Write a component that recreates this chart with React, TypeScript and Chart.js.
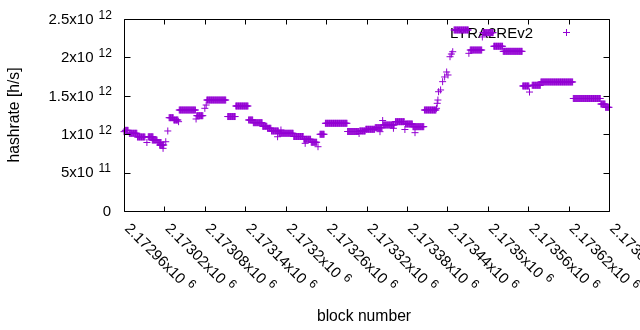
import React, { useEffect, useRef } from "react";
import { Chart, registerables } from "chart.js";

Chart.register(...registerables);

// ---- data (runs of consecutive blocks with the same hashrate, in 10^12 h/s) ----
const runStart = [
  2172960, 2172962, 2172968, 2172980, 2172994, 2172996, 2173002, 2173010, 2173013, 2173018,
  2173022, 2173025, 2173027, 2173034, 2173041, 2173042, 2173067, 2173068, 2173080, 2173082,
  2173083, 2173114, 2173126, 2173145, 2173152, 2173166, 2173173, 2173179, 2173188, 2173193,
  2173190, 2173212, 2173227, 2173229, 2173238, 2173248, 2173251, 2173259, 2173292, 2173309,
  2173310, 2173319, 2173333, 2173340, 2173344, 2173345, 2173360, 2173363, 2173377, 2173378,
  2173392, 2173389, 2173406, 2173424, 2173425, 2173426, 2173427, 2173430, 2173433, 2173436,
  2173439, 2173441, 2173444, 2173446, 2173448, 2173450, 2173472, 2173474, 2173492, 2173493,
  2173509, 2173523, 2173552, 2173562, 2173566, 2173579, 2173627, 2173668, 2173675,
];
const runEnd = [
  2172960, 2172966, 2172979, 2172991, 2172994, 2173003, 2173009, 2173015, 2173019, 2173018,
  2173022, 2173025, 2173033, 2173040, 2173041, 2173066, 2173067, 2173077, 2173080, 2173082,
  2173111, 2173125, 2173144, 2173151, 2173165, 2173172, 2173178, 2173189, 2173188, 2173193,
  2173211, 2173226, 2173237, 2173229, 2173246, 2173248, 2173257, 2173291, 2173308, 2173309,
  2173318, 2173332, 2173343, 2173340, 2173344, 2173361, 2173360, 2173376, 2173377, 2173388,
  2173392, 2173405, 2173423, 2173424, 2173425, 2173426, 2173427, 2173430, 2173433, 2173436,
  2173439, 2173441, 2173444, 2173446, 2173448, 2173471, 2173472, 2173491, 2173492, 2173508,
  2173522, 2173551, 2173561, 2173562, 2173578, 2173626, 2173667, 2173674, 2173680,
];
const runHashrate = [
  1.033, 1.05, 1.012, 0.964, 0.892, 0.966, 0.924, 0.892, 0.859, 0.816,
  0.902, 1.042, 1.215, 1.185, 1.163, 1.315, 1.198, 1.241, 1.337, 1.38,
  1.445, 1.23, 1.367, 1.185, 1.15, 1.103, 1.077, 1.042, 0.967, 1.055,
  1.012, 0.97, 0.934, 0.881, 0.895, 0.837, 0.999, 1.142, 1.035, 1.009,
  1.042, 1.064, 1.085, 1.033, 1.178, 1.12, 1.077, 1.163, 1.061, 1.133,
  1.02, 1.098, 1.315, 1.337, 1.402, 1.445, 1.553, 1.576, 1.684, 1.745,
  1.81, 1.771, 2.009, 2.044, 2.074, 2.357, 2.053, 2.096, 2.266, 2.322,
  2.145, 2.079, 1.628, 1.549, 1.637, 1.68, 1.465, 1.393, 1.35,
];

const seriesName = "LYRA2REv2";
const xTitle = "block number";
const yTitle = "hashrate [h/s]";

const xTicks = [
  2172960, 2173020, 2173080, 2173140, 2173200, 2173260, 2173320,
  2173380, 2173440, 2173500, 2173560, 2173620, 2173680,
];
const xTickLabels = [
  "2.17296x10", "2.17302x10", "2.17308x10", "2.17314x10", "2.1732x10", "2.17326x10", "2.17332x10",
  "2.17338x10", "2.17344x10", "2.1735x10", "2.17356x10", "2.17362x10", "2.17368x10",
];
const xTickSup = ["6", "6", "6", "6", "6", "6", "6", "6", "6", "6", "6", "6", "6"];

const yTicks = [0, 0.5e12, 1e12, 1.5e12, 2e12, 2.5e12];
const yTickLabels = ["0", "5x10", "1x10", "1.5x10", "2x10", "2.5x10"];
const yTickSup = ["", "11", "12", "12", "12", "12"];

const X_MIN = 2172960;
const X_MAX = 2173680;
const Y_MIN = 0;
const Y_MAX = 2.5e12;

const PURPLE = "#9400D3";
const FONT = '"Liberation Sans", Arial, sans-serif';

const gnuplotPlugin = {
  id: "gnuplotLook",
  beforeDatasetsDraw(chart: any) {
    const ctx = chart.ctx;
    ctx.save();
    // key text
    ctx.fillStyle = "#000";
    ctx.font = `15px ${FONT}`;
    ctx.textAlign = "right";
    ctx.textBaseline = "alphabetic";
    ctx.fillText(seriesName, 533, 37.5);
    // key sample
    ctx.strokeStyle = PURPLE;
    ctx.lineWidth = 1;
    ctx.beginPath();
    ctx.moveTo(563, 32.5);
    ctx.lineTo(570, 32.5);
    ctx.moveTo(566.5, 29);
    ctx.lineTo(566.5, 36);
    ctx.stroke();
    ctx.restore();
  },
  afterDraw(chart: any) {
    const ctx = chart.ctx;
    const a = chart.chartArea;
    const xs = chart.scales.x;
    const ys = chart.scales.y;
    const L = Math.round(a.left) + 0.5;
    const R = Math.round(a.right) + 0.5;
    const T = Math.round(a.top) + 0.5;
    const B = Math.round(a.bottom) + 0.5;
    ctx.save();
    ctx.strokeStyle = "#000";
    ctx.lineWidth = 1;
    ctx.beginPath();
    ctx.rect(L, T, R - L, B - T);
    ctx.stroke();

    // ticks (inward, mirrored)
    ctx.beginPath();
    xTicks.forEach((v) => {
      const px = Math.round(xs.getPixelForValue(v)) + 0.5;
      ctx.moveTo(px, B);
      ctx.lineTo(px, B - 5);
      ctx.moveTo(px, T);
      ctx.lineTo(px, T + 5);
    });
    yTicks.forEach((v) => {
      const py = Math.round(ys.getPixelForValue(v)) + 0.5;
      ctx.moveTo(L, py);
      ctx.lineTo(L + 6, py);
      ctx.moveTo(R, py);
      ctx.lineTo(R - 6, py);
    });
    ctx.stroke();

    ctx.fillStyle = "#000";
    ctx.textBaseline = "alphabetic";

    // y tick labels
    yTicks.forEach((v, i) => {
      const py = ys.getPixelForValue(v);
      if (!yTickSup[i]) {
        ctx.font = `15px ${FONT}`;
        ctx.textAlign = "right";
        ctx.fillText(yTickLabels[i], 111, py + 4.5);
      } else {
        ctx.font = `15px ${FONT}`;
        ctx.textAlign = "right";
        ctx.fillText(yTickLabels[i], 93.5, py + 4.8);
        ctx.font = `12px ${FONT}`;
        ctx.textAlign = "left";
        ctx.fillText(yTickSup[i], 98.5, py - 0.5);
      }
    });

    // x tick labels (rotated)
    xTicks.forEach((v, i) => {
      const px = xs.getPixelForValue(v);
      ctx.save();
      ctx.translate(px, 229.3);
      ctx.rotate(Math.PI / 4);
      ctx.font = `15px ${FONT}`;
      ctx.textAlign = "left";
      ctx.fillText(xTickLabels[i], 0, 0);
      const w = ctx.measureText(xTickLabels[i]).width;
      ctx.font = `12px ${FONT}`;
      ctx.fillText(xTickSup[i], w + 5, -5.7);
      ctx.restore();
    });

    // axis titles
    ctx.font = `15.7px ${FONT}`;
    ctx.textAlign = "center";
    ctx.fillText(xTitle, 364, 321);
    ctx.save();
    ctx.translate(19.3, 115);
    ctx.rotate(-Math.PI / 2);
    ctx.fillText(yTitle, 0, 0);
    ctx.restore();

    ctx.restore();
  },
};

export default function App() {
  const canvasRef = useRef<HTMLCanvasElement | null>(null);

  useEffect(() => {
    if (!canvasRef.current) return;
    const points: { x: number; y: number }[] = [];
    runStart.forEach((s, i) => {
      for (let b = s; b <= runEnd[i]; b++) {
        points.push({ x: b, y: runHashrate[i] * 1e12 });
      }
    });

    const chart = new Chart(canvasRef.current, {
      type: "scatter",
      data: {
        datasets: [
          {
            label: seriesName,
            data: points,
            pointStyle: "cross",
            pointRadius: 3.5,
            pointBorderWidth: 1,
            borderColor: PURPLE,
            backgroundColor: PURPLE,
            showLine: false,
            clip: false as any,
          } as any,
        ],
      },
      options: {
        animation: false,
        responsive: false,
        devicePixelRatio: 1,
        events: [],
        layout: { padding: { left: 124, right: 31, top: 19, bottom: 119 } },
        plugins: {
          legend: { display: false },
          tooltip: { enabled: false },
        },
        scales: {
          x: { type: "linear", min: X_MIN, max: X_MAX, display: false },
          y: { type: "linear", min: Y_MIN, max: Y_MAX, display: false },
        },
      },
      plugins: [gnuplotPlugin],
    });
    return () => chart.destroy();
  }, []);

  return (
    <div style={{ position: "absolute", left: 0, top: 0, width: 640, height: 330, background: "#fff" }}>
      <canvas ref={canvasRef} width={640} height={330} style={{ display: "block" }} />
    </div>
  );
}
